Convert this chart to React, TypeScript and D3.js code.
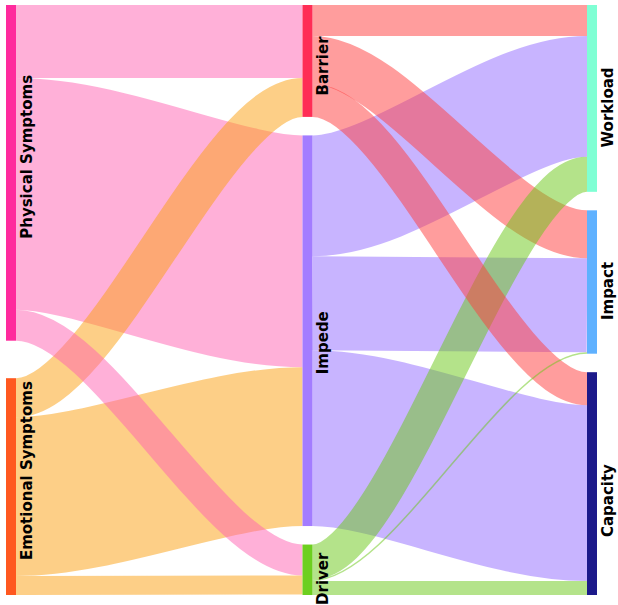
import React, { useEffect, useRef } from "react";
import * as d3 from "d3";

// nodes, by column
const nodeNames = [
  "Physical Symptoms",
  "Emotional Symptoms",
  "Barrier",
  "Impede",
  "Driver",
  "Workload",
  "Impact",
  "Capacity",
];
const nodeColumn = [0, 0, 1, 1, 1, 2, 2, 2];
const nodeColors = ["#ff2a9d", "#ff581f", "#ff2d55", "#a37cff", "#6dcf1f", "#7fffd4", "#5fb1ff", "#1c1a8a"];
// ribbon colour used for links leaving each node
const nodeLinkColors = ["#ff61b1", "#fb9f0f", "#ff3c3c", "#9169ff", "#69c715", "#7fffd4", "#5fb1ff", "#1c1a8a"];

// links
const linkSource = [
  "Physical Symptoms", "Physical Symptoms", "Physical Symptoms",
  "Emotional Symptoms", "Emotional Symptoms", "Emotional Symptoms",
  "Barrier", "Barrier", "Barrier",
  "Impede", "Impede", "Impede",
  "Driver", "Driver", "Driver",
];
const linkTarget = [
  "Barrier", "Impede", "Driver",
  "Barrier", "Impede", "Driver",
  "Workload", "Impact", "Capacity",
  "Workload", "Impact", "Capacity",
  "Workload", "Impact", "Capacity",
];
const linkValues = [73, 232, 31, 39, 159, 19, 31, 48, 33, 121, 94, 176, 35, 1.5, 14];

const width = 618;
const height = 605;

export default function App() {
  const ref = useRef(null);

  useEffect(() => {
    const svg = d3.select(ref.current);
    svg.selectAll("*").remove();

    const y0 = 5, y1 = 595;
    const nodeWidth = 10;
    const nodePadding = 18.5;
    const columnX = [6, 302.5, 587];
    const curvature = 0.3;
    // labels sit a little off the node centres
    const labelShift = [-16, -16, 5, 12, 9, 9, 9, 17];

    const nodes = nodeNames.map((name, i) => ({
      name, index: i, col: nodeColumn[i], color: nodeColors[i], linkColor: nodeLinkColors[i],
      value: 0, x0: 0, x1: 0, y0: 0, y1: 0,
      sourceLinks: [] as any[], targetLinks: [] as any[],
    }));
    const byName = new Map(nodes.map((n) => [n.name, n]));
    const links = linkValues.map((v, i) => {
      const l: any = { source: byName.get(linkSource[i]), target: byName.get(linkTarget[i]), value: v };
      l.source.sourceLinks.push(l);
      l.target.targetLinks.push(l);
      return l;
    });
    nodes.forEach((n) => {
      n.value = Math.max(d3.sum(n.sourceLinks, (l) => l.value), d3.sum(n.targetLinks, (l) => l.value));
    });

    const columns = d3.groups(nodes, (n) => n.col).map((g) => g[1]);
    const ky = d3.min(columns, (c) => (y1 - y0 - (c.length - 1) * nodePadding) / d3.sum(c, (n) => n.value)) as number;

    columns.forEach((c) => {
      const total = d3.sum(c, (n) => n.value) * ky;
      const gap = c.length > 1 ? (y1 - y0 - total) / (c.length - 1) : 0;
      let y = y0;
      c.forEach((n) => {
        n.x0 = columnX[n.col];
        n.x1 = n.x0 + nodeWidth;
        n.y0 = y;
        n.y1 = y + n.value * ky;
        y = n.y1 + gap;
      });
    });

    links.forEach((l) => (l.width = l.value * ky));
    nodes.forEach((n) => {
      n.sourceLinks.sort((a, b) => a.target.y0 - b.target.y0);
      n.targetLinks.sort((a, b) => a.source.y0 - b.source.y0);
      let sy = n.y0;
      n.sourceLinks.forEach((l) => { l.y0 = sy + l.width / 2; sy += l.width; });
      let ty = n.y0;
      n.targetLinks.forEach((l) => { l.y1 = ty + l.width / 2; ty += l.width; });
    });

    const linkPath = (d: any) => {
      const xa = d.source.x1, xb = d.target.x0;
      const dx = (xb - xa) * curvature;
      const p = d3.path();
      p.moveTo(xa, d.y0);
      p.bezierCurveTo(xa + dx, d.y0, xb - dx, d.y1, xb, d.y1);
      return p.toString();
    };

    // wide links underneath, narrow ones on top
    const drawOrder = links.slice().sort((a, b) => b.width - a.width);

    svg.append("g")
      .attr("fill", "none")
      .selectAll("path")
      .data(drawOrder)
      .join("path")
      .attr("d", linkPath)
      .attr("stroke", (d) => d.source.linkColor)
      .attr("stroke-opacity", 0.5)
      .attr("stroke-width", (d) => d.width);

    svg.append("g")
      .selectAll("rect")
      .data(nodes)
      .join("rect")
      .attr("x", (d) => d.x0)
      .attr("y", (d) => d.y0)
      .attr("width", (d) => d.x1 - d.x0)
      .attr("height", (d) => d.y1 - d.y0)
      .attr("fill", (d) => d.color);

    svg.append("g")
      .attr("font-family", "DejaVu Sans, sans-serif")
      .attr("font-size", 15)
      .attr("font-weight", "bold")
      .attr("fill", "#000")
      .selectAll("text")
      .data(nodes)
      .join("text")
      .attr("text-anchor", "middle")
      .attr("transform", (d) => `translate(${d.x1 + 15.5},${(d.y0 + d.y1) / 2 + labelShift[d.index]}) rotate(-90)`)
      .text((d) => d.name);
  }, []);

  return (
    <svg
      ref={ref}
      width={width}
      height={height}
      style={{ position: "absolute", left: 0, top: 0, background: "#fff" }}
    />
  );
}
